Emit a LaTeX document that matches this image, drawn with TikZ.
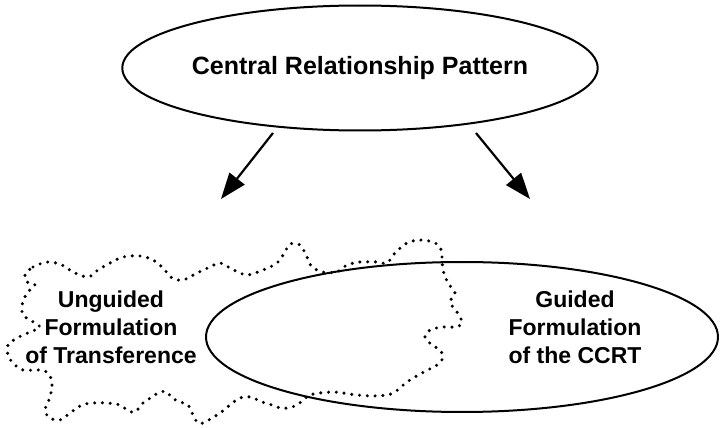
\documentclass[tikz,border=0pt]{standalone}
\usepackage{fontspec}
\setmainfont{Liberation Sans}
\usetikzlibrary{shapes.geometric, arrows.meta, positioning}

\begin{document}
\begin{tikzpicture}[x=0.5pt, y=-0.5pt,
    oval/.style={draw, ellipse, line width=1pt, inner sep=0pt},
    label/.style={align=center, font=\fontsize{11.5}{14}\selectfont\bfseries},
    pointer/.style={-{Triangle[length=13pt, width=9.5pt]}, line width=1.1pt},
    cloud/.style={line width=1.7pt, line cap=round, dash pattern=on 0pt off 3.9pt}]
    \useasboundingbox (0,0) rectangle (720,428);

    % Central pattern
    \node[oval, minimum width=217pt, minimum height=62.5pt,
          font=\fontsize{12.5}{15}\selectfont\bfseries] (central) at (360,68) {Central Relationship Pattern};

    % Arrows
    \coordinate (lstart) at (273,133);
    \coordinate (lend) at (221,199);
    \coordinate (rstart) at (476,133);
    \coordinate (rend) at (530,199);
    \draw[pointer] (lstart) -- (lend);
    \draw[pointer] (rstart) -- (rend);

    % Unguided formulation (dotted outline)
    \draw[cloud] plot[smooth cycle, tension=0.55] coordinates {
        (25,275) (33,267) (48,262) (62,265) (73,272) (88,277) (98,270) (110,263)
        (123,257) (140,256) (153,260) (163,268) (172,278) (183,280) (197,273)
        (210,267) (220,263) (230,268) (240,273) (248,275) (263,270) (277,263)
        (285,252) (290,244) (300,245) (307,257) (312,267) (323,272) (337,272)
        (347,265) (360,262) (377,262) (387,263) (395,253) (407,243) (420,240)
        (433,242) (440,247) (442,257) (443,270) (448,283) (455,293) (450,302)
        (457,312) (462,322) (457,327) (443,327) (430,330) (425,337) (432,345)
        (440,350) (443,358) (437,365) (422,373) (407,382) (395,392) (387,395)
        (373,396) (357,395) (343,393) (333,392) (320,393) (310,395) (303,400)
        (297,405) (288,408) (280,408) (272,405) (262,402) (250,397) (238,399)
        (220,413) (203,423) (197,422) (193,415) (188,405) (180,402) (172,398)
        (167,392) (160,392) (152,397) (143,403) (135,412) (127,410) (120,405)
        (107,403) (93,403) (82,405) (70,413) (60,420) (50,418) (45,410)
        (50,397) (52,383) (48,373) (40,370) (23,370) (13,363) (8,355) (8,345)
        (17,338) (30,332) (40,327) (30,320) (23,315) (22,305) (27,293)
        (35,285) (27,282)};
    \node[label] (unguided) at (111,327) {Unguided\\Formulation\\of Transference};

    % Guided formulation
    \node[oval, minimum width=256pt, minimum height=75pt] (guided) at (462,337) {};
    \node[label] (guidedtext) at (575,327) {Guided\\Formulation\\of the CCRT};
\end{tikzpicture}
\end{document}
